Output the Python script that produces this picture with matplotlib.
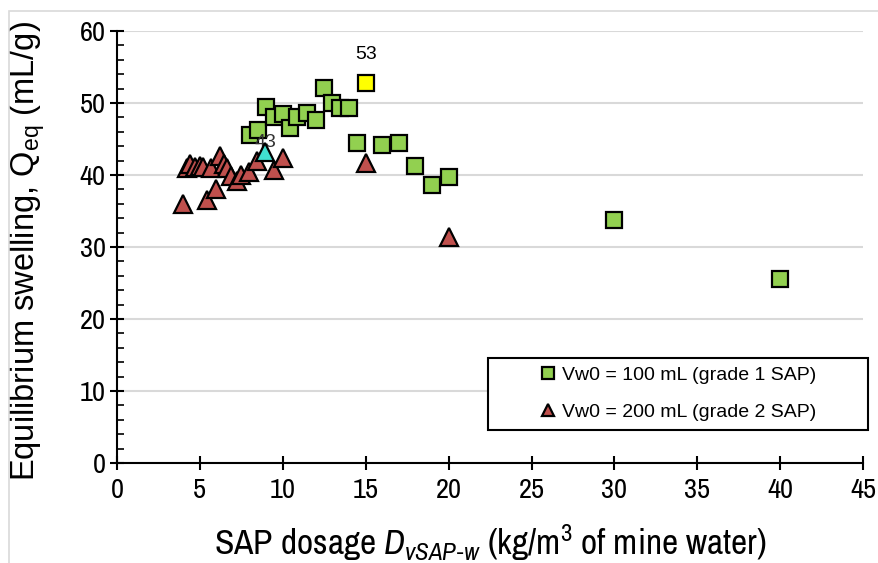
import matplotlib
matplotlib.use("Agg")
import matplotlib.pyplot as plt
from matplotlib.patches import Rectangle
from matplotlib.ticker import MultipleLocator

# ---- data ----
# grade 1 SAP, Vw0 = 100 mL
sq_x = [8.0, 8.5, 9.0, 9.45, 10.0, 10.45, 10.85, 11.45, 12.0, 12.5, 12.95,
        13.45, 14.0, 14.45, 16.0, 17.0, 18.0, 19.0, 20.0, 30.0, 40.0]
sq_y = [45.5, 46.3, 49.5, 48.0, 48.4, 46.5, 48.1, 48.6, 47.7, 52.1, 50.0,
        49.3, 49.3, 44.4, 44.2, 44.5, 41.2, 38.6, 39.7, 33.8, 25.6]
# grade 2 SAP, Vw0 = 200 mL
tri_x = [4.0, 4.2, 4.4, 4.7, 5.0, 5.2, 5.45, 5.7, 6.0, 6.2, 6.45, 6.65,
         6.9, 7.25, 7.5, 7.98, 8.46, 9.47, 10.0, 15.0, 20.0]
tri_y = [36.0, 40.9, 41.5, 41.1, 41.2, 41.1, 36.5, 40.9, 38.0, 42.6, 41.5, 41.0,
         39.8, 39.1, 40.0, 40.4, 41.9, 40.7, 42.3, 41.7, 31.4]
# highlighted maxima
best_sq = (15.0, 52.8, "53")
best_tri = (8.95, 43.2, "43")

green = "#92D050"
red = "#C0504D"
narrow = ["Archivo Narrow", "DejaVu Sans"]

plt.rcParams["font.family"] = ["Liberation Sans", "DejaVu Sans"]
plt.rcParams["mathtext.fontset"] = "custom"
plt.rcParams["mathtext.rm"] = "Liberation Sans"
plt.rcParams["mathtext.it"] = "Archivo Narrow:italic"
plt.rcParams["mathtext.sf"] = "Archivo Narrow"

fig = plt.figure(figsize=(8.79, 5.63), dpi=100)
ax = fig.add_axes([0.133, 0.1776, 0.849, 0.7674])

# light frame round the chart area
fig.patches.append(Rectangle((9 / 879, -0.1), 1.2, 1 - 11 / 563 + 0.1,
                             transform=fig.transFigure, fill=False,
                             edgecolor="#D9D9D9", lw=1.2))

ax.plot(sq_x, sq_y, ls="none", marker="s", ms=11.5, mfc=green, mec="black",
        mew=1.6, label="Vw0 = 100 mL (grade 1 SAP)", zorder=3)
ax.plot(tri_x, tri_y, ls="none", marker="^", ms=12.5, mfc=red, mec="black",
        mew=1.6, label="Vw0 = 200 mL (grade 2 SAP)", zorder=3)
ax.plot([best_sq[0]], [best_sq[1]], ls="none", marker="s", ms=11.5,
        mfc="#FFFF00", mec="black", mew=1.6, zorder=4)
ax.plot([best_tri[0]], [best_tri[1]], ls="none", marker="^", ms=12.5,
        mfc="#40E0D0", mec="black", mew=1.6, zorder=4)
ax.annotate(best_sq[2], (best_sq[0], best_sq[1]), xytext=(0, 14),
            textcoords="offset points", ha="center", va="bottom", fontsize=14)
ax.annotate(best_tri[2], (best_tri[0], best_tri[1]), xytext=(0, 1),
            textcoords="offset points", ha="center", va="bottom", fontsize=14,
            color="#333333", zorder=3.5)

ax.set_xlim(0, 45)
ax.set_ylim(0, 60)
ax.xaxis.set_major_locator(MultipleLocator(5))
ax.yaxis.set_major_locator(MultipleLocator(10))
ax.yaxis.set_minor_locator(MultipleLocator(2))
ax.grid(axis="y", color="#D9D9D9", lw=1.5, zorder=0)
ax.set_axisbelow(True)
for s in ["top", "right"]:
    ax.spines[s].set_visible(False)
for s in ["left", "bottom"]:
    ax.spines[s].set_linewidth(1.5)
ax.tick_params(axis="both", which="major", direction="inout", length=10,
               width=1.5, labelsize=20.5)
ax.tick_params(axis="y", which="minor", direction="in", length=5, width=1.2)
ax.tick_params(axis="y", pad=3)
ax.tick_params(axis="x", pad=6)
for t in ax.get_xticklabels() + ax.get_yticklabels():
    t.set_family(narrow)

ax.set_ylabel(r"Equilibrium swelling, Q$_{\mathrm{eq}}$ (mL/g)", fontsize=23.5,
              labelpad=4)
ax.yaxis.set_label_coords(-0.094, 0.49)
ax.set_xlabel(r"SAP dosage $\mathit{D}_{\mathit{vSAP\text{-}w}}$ "
              r"(kg/m$^{\mathsf{3}}$ of mine water)", fontsize=25.5,
              family=narrow, labelpad=14)

# legend with a centred box
ax.add_patch(Rectangle((0.497, 0.076), 0.51, 0.167, transform=ax.transAxes,
                       fill=True, facecolor="white", edgecolor="black",
                       lw=1.5, clip_on=False, zorder=5))
leg = ax.legend(loc="center", bbox_to_anchor=(0.752, 0.16), frameon=False,
                fontsize=14, markerscale=0.7, handlelength=0.8,
                handletextpad=0.3, labelspacing=1.0)
leg.set_zorder(6)

fig.savefig("out.png", dpi=100)
